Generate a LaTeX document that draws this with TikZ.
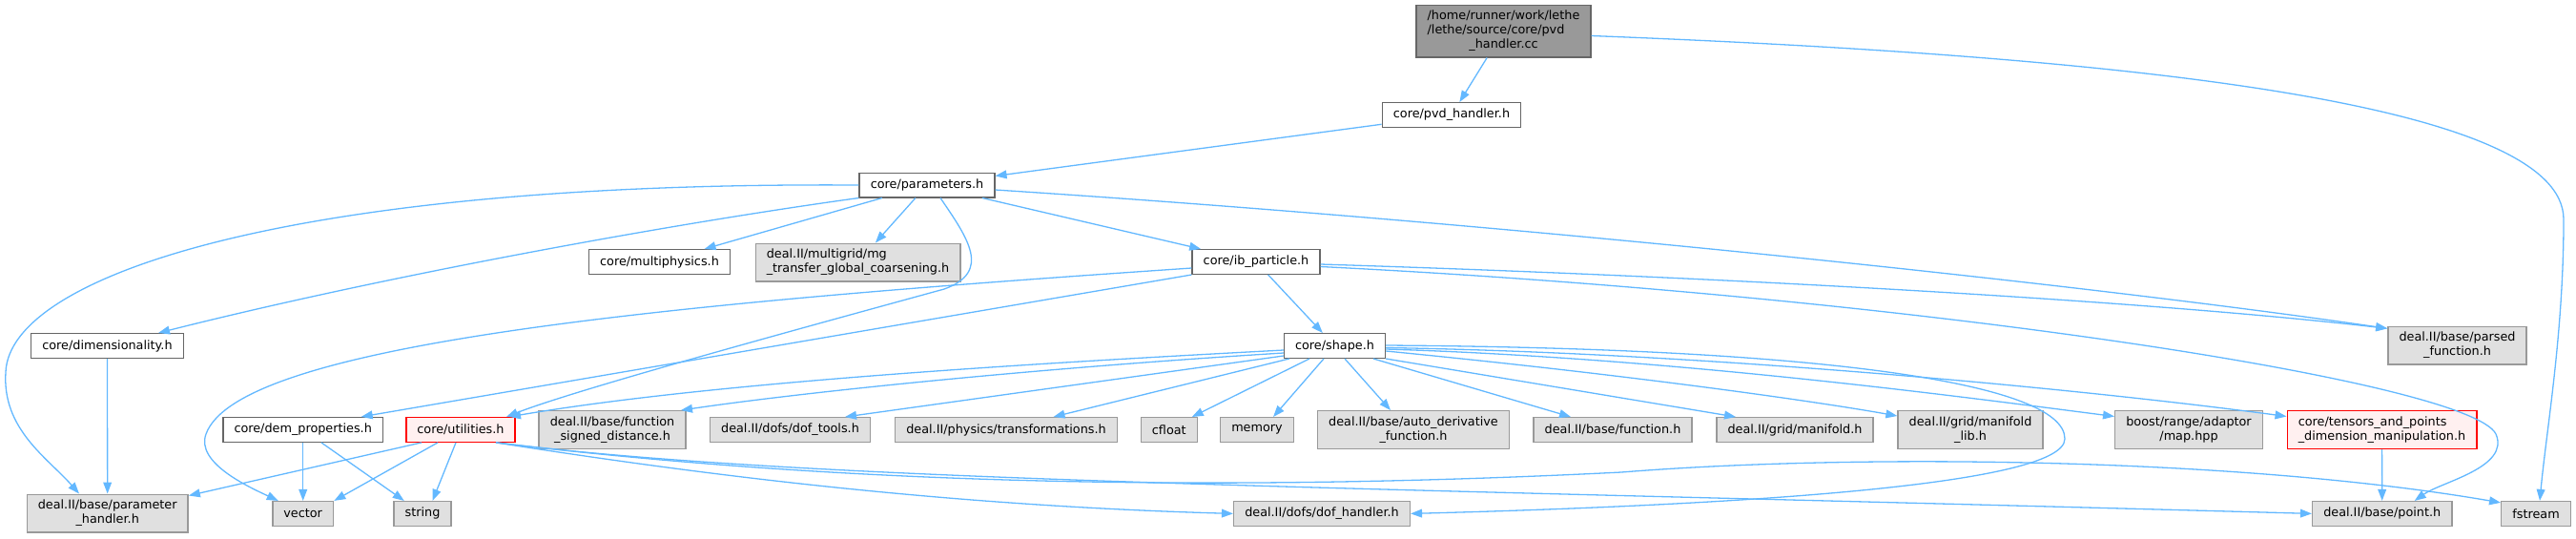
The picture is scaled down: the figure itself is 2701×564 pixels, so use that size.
\documentclass[tikz,border=0pt]{standalone}
\usepackage{fontspec}
\setmainfont{DejaVu Sans}
\usetikzlibrary{arrows.meta}

\definecolor{edgeblue}{HTML}{63B8FF}
\definecolor{rootfill}{HTML}{999999}
\definecolor{darkframe}{HTML}{666666}
\definecolor{extfill}{HTML}{E0E0E0}
\definecolor{extframe}{HTML}{999999}
\definecolor{warnfill}{HTML}{FFF0F0}

\newcommand*{\splitlabel}[2]{\begin{tabular}{@{}l@{}}#1\\\multicolumn{1}{@{}c@{}}{#2}\end{tabular}}

\begin{document}
\begin{tikzpicture}
[
	x=0.5pt, y=-0.5pt,
	font=\fontsize{6.4}{7.5}\selectfont,
	file/.style={draw=darkframe,fill=white,line width=0.7pt,inner xsep=5.8pt,inner ysep=2.4pt,minimum height=12.8pt},
	rootfile/.style={file,fill=rootfill},
	extfile/.style={file,draw=extframe,fill=extfill},
	warnfile/.style={file,draw=red,fill=warnfill},
	dep/.style={edgeblue,line width=0.65pt,-{Triangle[length=6pt,width=4.4pt]}}
]

	\useasboundingbox (0,0) rectangle (2701,564);

	% top rows
	\node[rootfile] (root) at (1576.5,32.5) {\begin{tabular}{@{}l@{}}/home/runner/work/lethe\\/lethe/source/core/pvd\\\multicolumn{1}{@{}c@{}}{\_handler.cc}\end{tabular}};
	\node[file] (pvd) at (1522,120.5) {core/pvd\_handler.h};
	\node[file] (params) at (972,194) {core/parameters.h};
	\node[file] (multi) at (691.5,274.5) {core/multiphysics.h};
	\node[extfile] (mg) at (899.5,275) {\splitlabel{deal.II/multigrid/mg}{\_transfer\_global\_coarsening.h}};
	\node[file] (ibp) at (1317,274.5) {core/ib\_particle.h};
	\node[file] (dim) at (112.5,362.5) {core/dimensionality.h};
	\node[file] (shape) at (1399.5,362.5) {core/shape.h};
	\node[extfile] (parsed) at (2576.5,362.3) {\splitlabel{deal.II/base/parsed}{\_function.h}};

	% includes of shape.h
	\node[file] (dem) at (317.7,450.4) {core/dem\_properties.h};
	\node[warnfile] (util) at (483,450.4) {core/utilities.h};
	\node[extfile] (fsd) at (642,450.5) {\splitlabel{deal.II/base/function}{\_signed\_distance.h}};
	\node[extfile] (doftools) at (828.5,450.5) {deal.II/dofs/dof\_tools.h};
	\node[extfile] (transf) at (1055,450.5) {deal.II/physics/transformations.h};
	\node[extfile] (cfloat) at (1225.8,450.5) {cfloat};
	\node[extfile] (memory) at (1318,450.5) {memory};
	\node[extfile] (autoder) at (1482,450.5) {\splitlabel{deal.II/base/auto\_derivative}{\_function.h}};
	\node[extfile] (func) at (1691,450.5) {deal.II/base/function.h};
	\node[extfile] (manifold) at (1882,450.5) {deal.II/grid/manifold.h};
	\node[extfile] (mlib) at (2066,450.5) {\splitlabel{deal.II/grid/manifold}{\_lib.h}};
	\node[extfile] (boost) at (2295,450.5) {\splitlabel{boost/range/adaptor}{/map.hpp}};
	\node[warnfile] (tensors) at (2497.5,450.5) {\splitlabel{core/tensors\_and\_points}{\_dimension\_manipulation.h}};

	% bottom row
	\node[extfile] (parhandler) at (112.7,538) {\splitlabel{deal.II/base/parameter}{\_handler.h}};
	\node[extfile] (vector) at (317.7,538.4) {vector};
	\node[extfile] (string) at (443,538.4) {string};
	\node[extfile] (dofh) at (1386,538.4) {deal.II/dofs/dof\_handler.h};
	\node[extfile] (point) at (2497.7,538.4) {deal.II/base/point.h};
	\node[extfile] (fstream) at (2659,538.4) {fstream};

	% root and pvd_handler
	\draw[dep] (root) -- (pvd);
	\draw[dep] ([yshift=-2.5pt]root.east) .. controls (2250,60) and (2688,110) .. (2688,230)
	  .. controls (2688,350) and (2670,450) .. ([xshift=2pt]fstream.north);
	\draw[dep] (pvd) -- (params);

	% parameters.h
	\draw[dep] (params.west) .. controls (300,190) and (10,290) .. (6,390)
	  .. controls (2,450) and (50,480) .. ([xshift=-14.85pt]parhandler.north);
	\draw[dep] (params.south west) .. controls (700,235) and (400,290) .. ([xshift=26.75pt]dim.north);
	\draw[dep] (params) -- (multi);
	\draw[dep] (params) -- (mg);
	\draw[dep] ([xshift=7pt]params.south) .. controls (1015,250) and (1040,285) .. (990,303)
	  .. controls (800,355) and (600,410) .. ([xshift=24pt]util.north);
	\draw[dep] (params) -- (ibp);
	\draw[dep] ([yshift=-2.5pt]params.east) .. controls (1600,235) and (2200,300) .. ([yshift=9pt]parsed.west);

	% ib_particle.h
	\draw[dep] ([yshift=-1.25pt]ibp.east) .. controls (1800,290) and (2250,315) .. ([yshift=9pt]parsed.west);
	\draw[dep] ([yshift=-2.5pt]ibp.east) .. controls (2000,310) and (2590,400) .. (2617,455)
	  .. controls (2632,490) and (2560,505) .. ([xshift=17pt]point.north);
	\draw[dep] (ibp) -- (shape);
	\draw[dep] ([yshift=-3.25pt]ibp.west) .. controls (700,318) and (250,360) .. (216,455)
	  .. controls (205,485) and (260,510) .. ([xshift=-13pt]vector.north);
	\draw[dep] (ibp.south west) -- ([xshift=30.5pt]dem.north);

	% dimensionality.h
	\draw[dep] (dim) -- (parhandler);

	% shape.h
	\draw[dep] ([yshift=-2.25pt]shape.west) .. controls (1100,380) and (750,400) .. ([xshift=25.5pt]util.north);
	\draw[dep] ([yshift=-3.75pt]shape.west) .. controls (1100,385) and (850,410) .. ([xshift=36pt]fsd.north);
	\draw[dep] ([yshift=-5.25pt]shape.west) -- ([xshift=28.75pt]doftools.north);
	\draw[dep] ([xshift=3pt]shape.south west) -- ([xshift=24.75pt]transf.north);
	\draw[dep] ([xshift=-13.25pt]shape.south) -- ([xshift=12pt]cfloat.north);
	\draw[dep] ([xshift=-5.75pt]shape.south) -- ([xshift=8.5pt]memory.north);
	\draw[dep] ([xshift=5.25pt]shape.south) -- ([xshift=-12pt]autoder.north);
	\draw[dep] ([xshift=20.25pt]shape.south) -- ([xshift=-22pt]func.north);
	\draw[dep] (shape.south east) -- ([xshift=-31pt]manifold.north);
	\draw[dep] ([yshift=-2.75pt]shape.east) .. controls (1700,392) and (1900,420) .. ([yshift=7.25pt]mlib.west);
	\draw[dep] ([yshift=-1.75pt]shape.east) .. controls (1750,375) and (2050,415) .. ([yshift=7pt]boost.west);
	\draw[dep] ([yshift=-1pt]shape.east) .. controls (1800,370) and (2200,410) .. ([yshift=7pt]tensors.west);
	\draw[dep] ([yshift=0.25pt]shape.east) .. controls (1900,365) and (2165,400) .. (2165,460)
	  .. controls (2165,510) and (1800,530) .. (dofh.east);

	% dem_properties.h
	\draw[dep] (dem) -- (vector);
	\draw[dep] (dem) -- (string);

	% utilities.h
	\draw[dep] ([xshift=-20.5pt]util.south) -- ([yshift=-1pt]parhandler.north east);
	\draw[dep] ([xshift=-12pt]util.south) -- (vector.north east);
	\draw[dep] ([xshift=-2.5pt]util.south) -- ([xshift=5.25pt]string.north);
	\draw[dep] ([xshift=18.5pt]util.south) .. controls (750,500) and (1000,530) .. (dofh.west);
	\draw[dep] ([xshift=18.5pt]util.south) .. controls (850,505) and (1400,510) .. (point.west);
	\draw[dep] ([xshift=18.5pt]util.south) .. controls (900,510) and (1300,515) .. (1700,495)
	  .. controls (1950,475) and (2350,480) .. ([yshift=-1pt]fstream.north west);

	% tensors_and_points
	\draw[dep] (tensors) -- (point);

\end{tikzpicture}
\end{document}
